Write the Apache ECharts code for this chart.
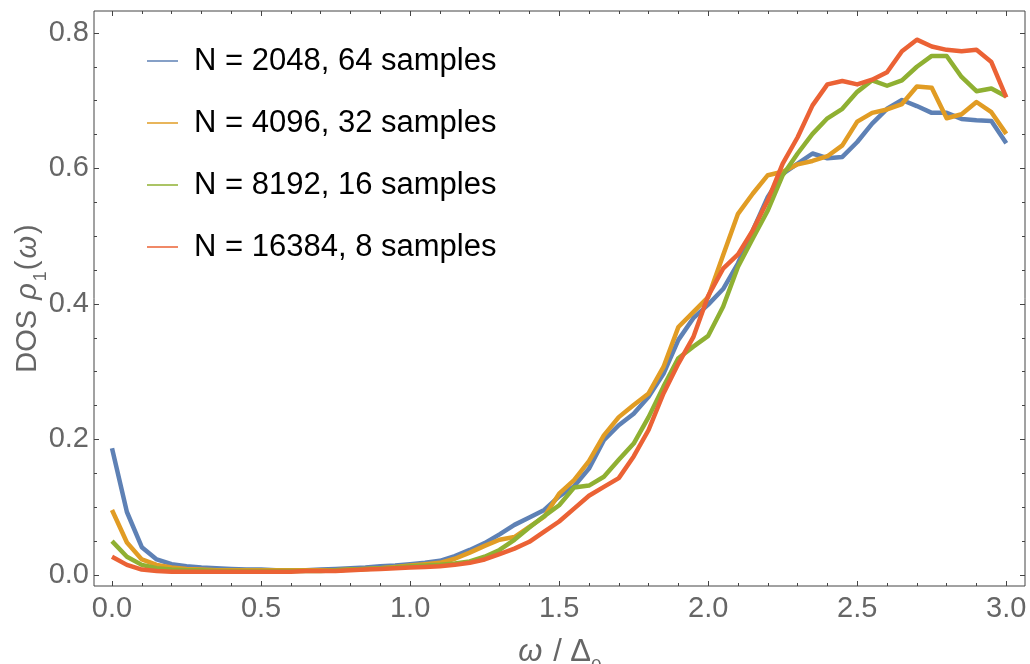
<!DOCTYPE html>
<html>
<head>
<meta charset="utf-8">
<script src="https://cdn.jsdelivr.net/npm/echarts@6/dist/echarts.min.js"></script>
<style>
  html, body { margin: 0; padding: 0; background: #fff; }
  #chart { width: 1030px; height: 664px; }
</style>
</head>
<body>
<div id="chart"></div>
<script>
// omega / Delta_0 grid
var omega = [0.00, 0.05, 0.10, 0.15, 0.20, 0.25, 0.30, 0.35, 0.40, 0.45,
  0.50, 0.55, 0.60, 0.65, 0.70, 0.75, 0.80, 0.85, 0.90, 0.95,
  1.00, 1.05, 1.10, 1.15, 1.20, 1.25, 1.30, 1.35, 1.40, 1.45,
  1.50, 1.55, 1.60, 1.65, 1.70, 1.75, 1.80, 1.85, 1.90, 1.95,
  2.00, 2.05, 2.10, 2.15, 2.20, 2.25, 2.30, 2.35, 2.40, 2.45,
  2.50, 2.55, 2.60, 2.65, 2.70, 2.75, 2.80, 2.85, 2.90, 2.95, 3.00]

var seriesNames = ['N = 2048, 64 samples', 'N = 4096, 32 samples',
  'N = 8192, 16 samples', 'N = 16384, 8 samples']

var dos2048 = [0.187, 0.093, 0.041, 0.023, 0.016, 0.013, 0.011, 0.010, 0.009, 0.008,
  0.008, 0.007, 0.007, 0.007, 0.008, 0.009, 0.010, 0.011, 0.013, 0.014,
  0.016, 0.018, 0.021, 0.028, 0.037, 0.047, 0.060, 0.074, 0.085, 0.096,
  0.116, 0.131, 0.157, 0.199, 0.221, 0.238, 0.263, 0.297, 0.347, 0.379,
  0.399, 0.422, 0.460, 0.509, 0.558, 0.592, 0.607, 0.622, 0.615, 0.617,
  0.639, 0.666, 0.688, 0.701, 0.692, 0.682, 0.682, 0.673, 0.671, 0.670, 0.637]

var dos4096 = [0.096, 0.048, 0.023, 0.015, 0.011, 0.009, 0.008, 0.007, 0.007, 0.007,
  0.007, 0.007, 0.007, 0.007, 0.007, 0.007, 0.008, 0.009, 0.010, 0.012,
  0.014, 0.016, 0.018, 0.024, 0.033, 0.043, 0.052, 0.056, 0.071, 0.086,
  0.120, 0.140, 0.168, 0.206, 0.233, 0.251, 0.268, 0.307, 0.366, 0.388,
  0.410, 0.472, 0.533, 0.563, 0.590, 0.595, 0.606, 0.611, 0.618, 0.634,
  0.669, 0.682, 0.687, 0.695, 0.721, 0.719, 0.674, 0.680, 0.698, 0.683, 0.651]

var dos8192 = [0.050, 0.027, 0.015, 0.010, 0.008, 0.007, 0.007, 0.006, 0.006, 0.006,
  0.006, 0.006, 0.006, 0.006, 0.006, 0.007, 0.008, 0.009, 0.010, 0.011,
  0.013, 0.014, 0.015, 0.017, 0.020, 0.027, 0.037, 0.052, 0.070, 0.087,
  0.103, 0.129, 0.132, 0.145, 0.170, 0.194, 0.233, 0.278, 0.320, 0.337,
  0.353, 0.396, 0.455, 0.497, 0.538, 0.590, 0.622, 0.651, 0.674, 0.688,
  0.713, 0.730, 0.722, 0.730, 0.750, 0.766, 0.766, 0.735, 0.714, 0.718, 0.706]

var dos16384 = [0.027, 0.015, 0.008, 0.006, 0.005, 0.005, 0.005, 0.005, 0.005, 0.005,
  0.005, 0.005, 0.005, 0.006, 0.006, 0.006, 0.007, 0.008, 0.009, 0.010,
  0.011, 0.012, 0.013, 0.015, 0.018, 0.023, 0.031, 0.039, 0.049, 0.064,
  0.079, 0.098, 0.117, 0.130, 0.143, 0.175, 0.214, 0.268, 0.312, 0.351,
  0.412, 0.452, 0.473, 0.509, 0.553, 0.607, 0.646, 0.693, 0.724, 0.729,
  0.724, 0.731, 0.742, 0.773, 0.790, 0.780, 0.775, 0.773, 0.775, 0.757, 0.705]

// tick positions
var xMajor = [0, 0.5, 1.0, 1.5, 2.0, 2.5, 3.0]
var xMinor = [0.1, 0.2, 0.3, 0.4, 0.6, 0.7, 0.8, 0.9, 1.1, 1.2, 1.3, 1.4,
  1.6, 1.7, 1.8, 1.9, 2.1, 2.2, 2.3, 2.4, 2.6, 2.7, 2.8, 2.9]
var yMajor = [0, 0.2, 0.4, 0.6, 0.8]
var yMinor = [0.05, 0.1, 0.15, 0.25, 0.3, 0.35, 0.45, 0.5, 0.55, 0.65, 0.7, 0.75]

var colors = ['#5E81B5', '#E19C24', '#8FB032', '#EB6235']
var allDos = [dos2048, dos4096, dos8192, dos16384]

var frameColor = '#444'
var labelColor = '#666'
var font = '"Liberation Sans", Arial, sans-serif'

function pairs(ys) {
  return omega.map(function (x, i) { return [x, ys[i]] })
}

function tickAxis(base, pos, values, len, extra) {
  return Object.assign({
    type: 'value',
    position: pos,
    min: base.min,
    max: base.max,
    splitLine: { show: false },
    axisLine: { show: false, onZero: false },
    axisTick: { show: true, inside: true, length: len, customValues: values,
      lineStyle: { color: frameColor, width: 1 } },
    axisLabel: { show: false }
  }, extra || {})
}

var xr = { min: -0.0604, max: 3.0628 }
var yr = { min: -0.0162, max: 0.8323 }

function titleRich(size) {
  return {
    it: { fontSize: size, fontStyle: 'italic', color: labelColor, fontFamily: font, padding: [0, 2, 0, 2] },
    sub: { fontSize: Math.round(size * 0.62), color: labelColor, fontFamily: font, verticalAlign: 'bottom', padding: [0, 1, -8, 0] }
  }
}

var chart = echarts.init(document.getElementById('chart'))
chart.setOption({
  animation: false,
  color: colors,
  textStyle: { fontFamily: font },
  grid: {
    left: 94, right: 5, top: 11, bottom: 78,
    outerBoundsMode: 'none',
    containLabel: false,
    show: true, borderColor: frameColor, borderWidth: 1, backgroundColor: 'transparent'
  },
  legend: {
    orient: 'vertical',
    left: 147,
    top: 45,
    padding: 0,
    itemGap: 30,
    itemWidth: 31,
    itemHeight: 1.5,
    icon: 'rect',
    data: seriesNames,
    textStyle: { fontSize: 31, color: '#000', fontFamily: font, lineHeight: 32, padding: [0, 0, 0, 11] }
  },
  xAxis: [
    tickAxis(xr, 'bottom', xMajor, 5, {
      axisLabel: {
        show: true, customValues: xMajor, margin: 8,
        fontSize: 29, color: labelColor, fontFamily: font,
        formatter: function (v) { return v.toFixed(1) }
      },
      name: '{it|ω} / Δ{sub|0}',
      nameLocation: 'middle',
      nameGap: 51,
      nameMoveOverlap: false,
      nameTextStyle: {
        fontSize: 31, color: labelColor, fontFamily: font,
        rich: titleRich(31)
      }
    }),
    tickAxis(xr, 'bottom', xMinor, 3),
    tickAxis(xr, 'top', xMajor, 5),
    tickAxis(xr, 'top', xMinor, 3)
  ],
  yAxis: [
    tickAxis(yr, 'left', yMajor, 5, {
      axisLabel: {
        show: true, customValues: yMajor, margin: 5,
        fontSize: 29, color: labelColor, fontFamily: font,
        formatter: function (v) { return v.toFixed(1) }
      },
      name: 'DOS {it|ρ}{sub|1}({it|ω})',
      nameLocation: 'middle',
      nameRotate: 90,
      nameGap: 52,
      nameMoveOverlap: false,
      nameTextStyle: {
        fontSize: 29, color: labelColor, fontFamily: font,
        rich: titleRich(29)
      }
    }),
    tickAxis(yr, 'left', yMinor, 3),
    tickAxis(yr, 'right', yMajor, 5),
    tickAxis(yr, 'right', yMinor, 3)
  ],
  series: seriesNames.map(function (name, k) {
    return {
      name: name,
      type: 'line',
      xAxisIndex: 0,
      yAxisIndex: 0,
      data: pairs(allDos[k]),
      showSymbol: false,
      symbol: 'none',
      lineStyle: { width: 4.5, color: colors[k], join: 'round' },
      itemStyle: { color: colors[k] },
      emphasis: { disabled: true }
    }
  })
})
</script>
</body>
</html>
